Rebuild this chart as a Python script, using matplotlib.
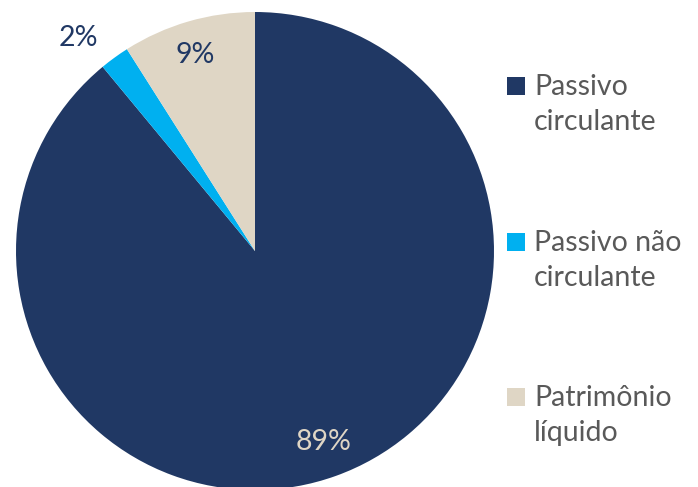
import matplotlib.pyplot as plt
from matplotlib.patches import Rectangle

categorias = ['Passivo\ncirculante', 'Passivo não\ncirculante', 'Patrimônio\nlíquido']
valores = [89, 2, 9]
cores = ['#203864', '#00B0F0', '#DFD6C5']
cor_rotulo = ['#DFD6C5', '#203864', '#203864']

plt.rcParams['font.family'] = ['Lato', 'DejaVu Sans']
fs = 20.5

fig = plt.figure(figsize=(6.98, 4.87), dpi=100)
# pie centre around (255, 251) px, radius ~239 px
ax = fig.add_axes([16 / 698, -3 / 487, 478 / 698, 478 / 487])
wedges, texts, autotexts = ax.pie(valores, colors=cores, startangle=90, counterclock=False,
                                  autopct='%1.0f%%', pctdistance=0.85, radius=1.0,
                                  textprops={'fontsize': fs})
for t, c in zip(autotexts, cor_rotulo):
    t.set_color(c)
# small slice label sits outside the pie
autotexts[1].set_position((-0.74, 0.89))
autotexts[2].set_position((-0.25, 0.82))
ax.set_xlim(-1, 1)
ax.set_ylim(-1, 1)
ax.set_aspect('equal')
ax.axis('off')

# legend, square aligned with first line of each label
ys = [86, 242, 397]
for lab, c, y in zip(categorias, cores, ys):
    fig.patches.append(Rectangle((507 / 698, 1 - (y + 9) / 487), 18 / 698, 18 / 487,
                                 transform=fig.transFigure, facecolor=c, edgecolor='none'))
    fig.text(534 / 698, 1 - (y - 12) / 487, lab, fontsize=fs, color='#595959',
             va='top', ha='left', linespacing=1.42)

fig.savefig('out.png', dpi=100)
